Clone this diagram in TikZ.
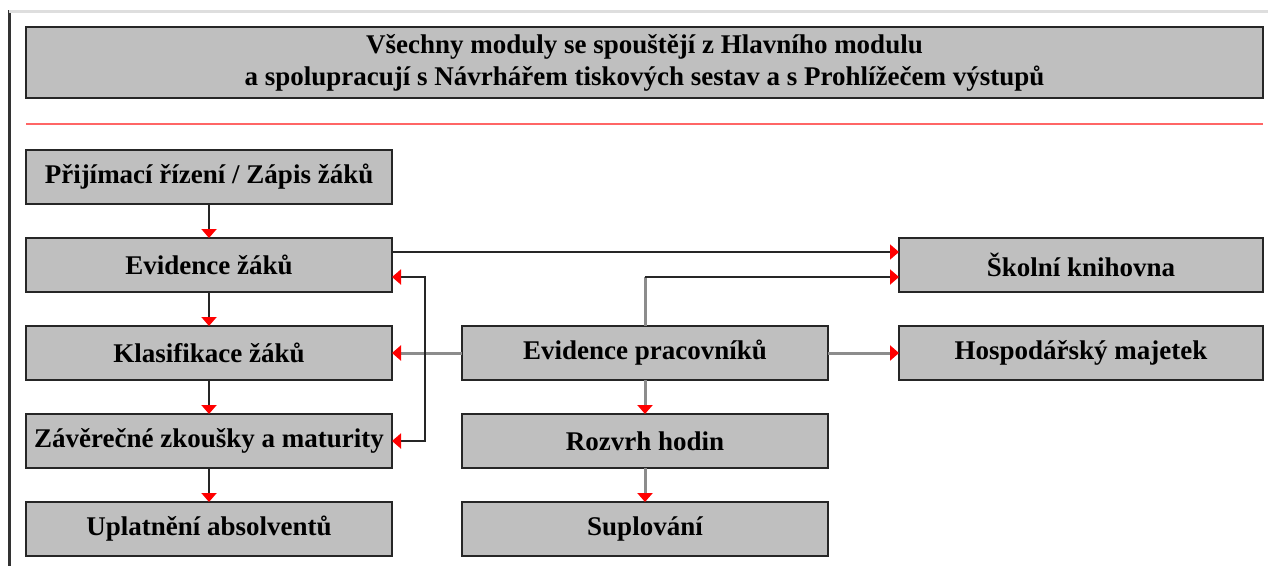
\documentclass[tikz,border=0pt]{standalone}
\usepackage{fontspec}
\setmainfont{Liberation Serif}
\usetikzlibrary{arrows.meta}

\begin{document}
\begin{tikzpicture}[x=1pt,y=-1pt,
    box/.style={rectangle,draw=black!85,line width=2pt,fill=black!25,
        minimum width=366pt,minimum height=54pt,inner sep=0pt,outer sep=0pt,
        font=\fontsize{27}{32}\selectfont\bfseries},
    link/.style={line width=2pt,draw=black!85},
    glink/.style={line width=3pt,draw=black!45},
    >={Triangle[length=9pt,width=15pt,color=red]}]
    \useasboundingbox (0,0) rectangle (1268,566);
    % page frame
    \draw[line width=3pt,black!80] (9,10) -- (9,566);
    \draw[line width=3pt,black!13] (9,11) -- (1268,11);
    \node[box,minimum width=1237pt,minimum height=71pt,align=center] (all) at (644.5,62.5)
        {Všechny moduly se spouštějí z Hlavního modulu\\a spolupracují s Návrhářem tiskových sestav a s Prohlížečem výstupů};
    \draw[line width=2pt,red!60] (26,124) -- (1263,124);

    \node[box] (pri) at (209,176.5) {Přijímací řízení / Zápis žáků};
    \node[box] (evz) at (209,265) {Evidence žáků};
    \node[box] (kla) at (209,353) {Klasifikace žáků};
    \node[box] (zav) at (209,441) {Závěrečné zkoušky a maturity};
    \node[box] (upl) at (209,529) {Uplatnění absolventů};
    \node[box] (evp) at (645,353) {Evidence pracovníků};
    \node[box] (roz) at (645,441) {Rozvrh hodin};
    \node[box] (sup) at (645,529) {Suplování};
    \node[box,minimum width=364pt] (kni) at (1081,265) {Školní knihovna};
    \node[box,minimum width=364pt] (maj) at (1081,353) {Hospodářský majetek};

    \coordinate (br) at (425,353);
    \coordinate (ku) at ([yshift=-12pt]kni.west);

    \draw[link,->] (pri) -- (evz);
    \draw[link,->] (evz) -- (kla);
    \draw[link,->] (kla) -- (zav);
    \draw[link,->] (zav) -- (upl);
    \draw[link,->,line width=1.5pt] ([yshift=13pt]evz.east) -- ([yshift=13pt]kni.west);
    \draw[glink] (evp.west) -- (br);
    \draw[glink,->] (br) -- (kla.east);
    \draw[link,->] (br) |- ([yshift=-12pt]evz.east);
    \draw[link,->] (br) |- (zav.east);
    \draw[glink] (evp.north) -- (evp.north |- ku);
    \draw[link,->] (evp.north |- ku) -- (ku);
    \draw[glink,->] (evp) -- (maj);
    \draw[glink,->] (evp) -- (roz);
    \draw[glink,->] (roz) -- (sup);
\end{tikzpicture}
\end{document}
